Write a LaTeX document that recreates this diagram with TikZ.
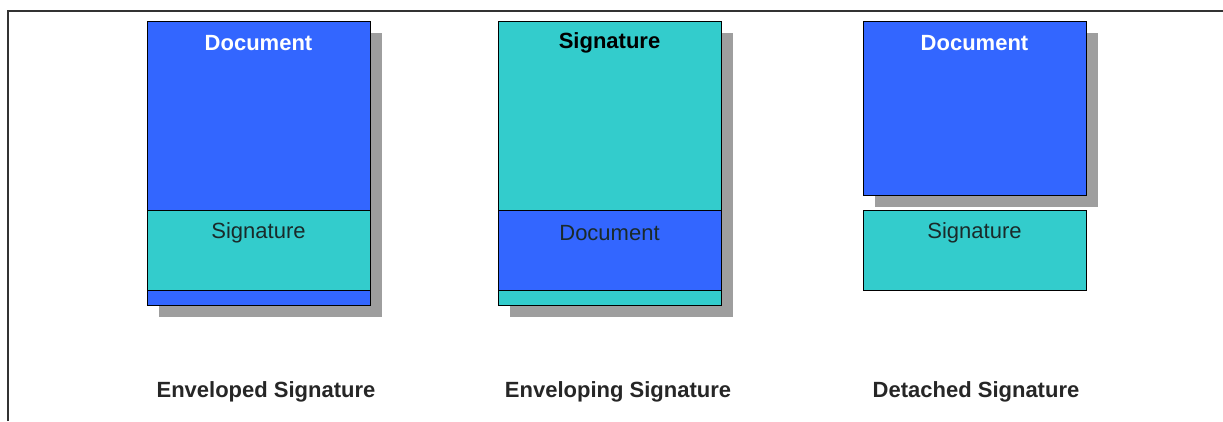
\documentclass[tikz,border=0pt]{standalone}
\usepackage{fontspec}
\setmainfont{Liberation Sans}
\usetikzlibrary{calc, positioning, backgrounds}
\definecolor{docblue}{HTML}{3366FF}
\definecolor{sigteal}{HTML}{33CCCC}
\definecolor{shadowgray}{HTML}{9E9E9E}
\definecolor{framegray}{HTML}{333333}
\definecolor{textdark}{HTML}{1A2A2A}

\begin{document}
\begin{tikzpicture}[x=1pt, y=-1pt,
  part/.style={draw=black, line width=0.9pt, minimum width=223pt, inner sep=0pt, outer sep=0pt},
  docpart/.style={part, fill=docblue},
  sigpart/.style={part, fill=sigteal},
  shade/.style={fill=shadowgray},
  toplabel/.style={font=\fontsize{22}{26}\selectfont\bfseries},
  midlabel/.style={font=\fontsize{22}{26}\selectfont, text=textdark},
  caption/.style={font=\fontsize{22}{26}\selectfont\bfseries, text=black!85}]
\useasboundingbox (0,0) rectangle (1223,421);

% frame on the top and left side
\draw[framegray, line width=2pt] (8,421) -- (8,11) -- (1223,11);

% enveloped: signature inside the document
\node[docpart, minimum height=189pt, anchor=north west] (envd) at (147,21) {};
\node[sigpart, minimum height=80pt, below=0pt of envd]  (envs) {};
\node[docpart, minimum height=15pt, below=0pt of envs]  (envb) {};
\node[toplabel, text=white] (envdt) at ($(envd.north)+(0,22)$) {Document};
\node[midlabel]             (envst) at ($(envs.north)+(0,23)$) {Signature};

% enveloping: document inside the signature
\node[sigpart, minimum height=189pt, anchor=north west] (engs) at (498,21) {};
\node[docpart, minimum height=80pt, below=0pt of engs]  (engd) {};
\node[sigpart, minimum height=15pt, below=0pt of engd]  (engb) {};
\node[toplabel, text=black] (engst) at ($(engs.north)+(0,22)$) {Signature};
\node[midlabel]             (engdt) at ($(engd.north)+(0,23)$) {Document};

% detached: two separate blocks
\node[docpart, minimum height=174pt, anchor=north west] (detd) at (863,21) {};
\node[sigpart, minimum height=80pt, below=15pt of detd] (dets) {};
\node[toplabel, text=white] (detdt) at ($(detd.north)+(0,22)$) {Document};
\node[midlabel]             (detst) at ($(dets.north)+(0,23)$) {Signature};

% drop shadows
\begin{scope}[on background layer]
  \fill[shade] ($(envd.north west)+(12,12)$) rectangle ($(envb.south east)+(12,12)$);
  \fill[shade] ($(engs.north west)+(12,12)$) rectangle ($(engb.south east)+(12,12)$);
  \fill[shade] ($(detd.north west)+(12,12)$) rectangle ($(detd.south east)+(12,12)$);
\end{scope}

% captions
\node[caption] (envc) at (266,392) {Enveloped Signature};
\node[caption] (engc) at (618,392) {Enveloping Signature};
\node[caption] (detc) at (976,392) {Detached Signature};
\end{tikzpicture}
\end{document}
